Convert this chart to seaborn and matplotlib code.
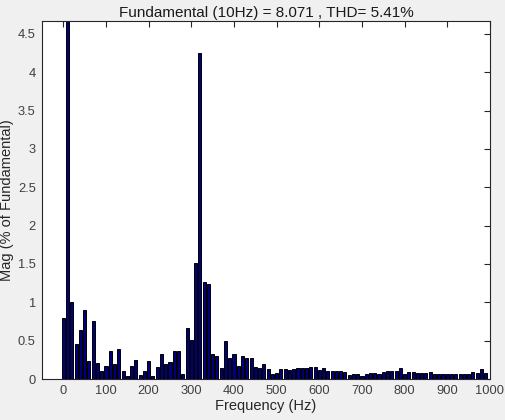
import numpy as np
import pandas as pd
import matplotlib
matplotlib.use("Agg")
import matplotlib.pyplot as plt
import seaborn as sns

# Harmonic frequencies (Hz) and magnitudes (% of fundamental)
freqs = list(range(0, 1000, 10))
mags = [
    0.79, 100.0, 1.01, 0.45, 0.64, 0.90, 0.24, 0.75, 0.21, 0.11,   # 0-90
    0.17, 0.37, 0.19, 0.39, 0.10, 0.04, 0.17, 0.25, 0.05, 0.11,    # 100-190
    0.24, 0.04, 0.16, 0.33, 0.20, 0.22, 0.36, 0.37, 0.06, 0.67,    # 200-290
    0.51, 1.51, 4.25, 1.26, 1.24, 0.32, 0.30, 0.15, 0.49, 0.28,    # 300-390
    0.32, 0.17, 0.30, 0.28, 0.27, 0.16, 0.14, 0.19, 0.13, 0.06,    # 400-490
    0.08, 0.13, 0.13, 0.12, 0.13, 0.15, 0.15, 0.15, 0.16, 0.16,    # 500-590
    0.12, 0.14, 0.11, 0.11, 0.11, 0.11, 0.09, 0.05, 0.07, 0.06,    # 600-690
    0.04, 0.07, 0.08, 0.08, 0.06, 0.09, 0.11, 0.10, 0.10, 0.15,    # 700-790
    0.07, 0.09, 0.09, 0.08, 0.08, 0.08, 0.09, 0.07, 0.06, 0.06,    # 800-890
    0.07, 0.06, 0.07, 0.06, 0.07, 0.07, 0.09, 0.08, 0.13, 0.08,    # 900-990
]
title_text = "Fundamental (10Hz) = 8.071 , THD= 5.41%"
x_label = "Frequency (Hz)"
y_label = "Mag (% of Fundamental)"
x_ticks = list(range(0, 1001, 100))
y_ticks = [0, 0.5, 1, 1.5, 2, 2.5, 3, 3.5, 4, 4.5]
y_ticklabels = ["0", "0.5", "1", "1.5", "2", "2.5", "3", "3.5", "4", "4.5"]

df = pd.DataFrame({"freq": freqs, "mag": mags})

sns.set_style("white")
plt.rcParams["font.family"] = ["Liberation Sans", "DejaVu Sans"]

fig = plt.figure(figsize=(5.05, 4.2), dpi=100, facecolor="#f0f0f0")
ax = fig.add_axes([0.0832, 0.0976, 0.8870, 0.8530])
ax.set_facecolor("white")

sns.barplot(data=df, x="freq", y="mag", native_scale=True, width=0.72,
            color="#00007a", saturation=1, edgecolor="black", linewidth=0.7,
            errorbar=None, ax=ax)

ax.set_xlim(-50, 1000)
ax.set_ylim(0, 4.67)
ax.set_xticks(x_ticks)
ax.set_xticklabels([str(t) for t in x_ticks])
ax.set_yticks(y_ticks)
ax.set_yticklabels(y_ticklabels)
ax.tick_params(direction="in", length=4, width=0.8, top=True, right=True,
               labelsize=9.3, colors="#262626", labelcolor="#404040", pad=4.5)
for s in ax.spines.values():
    s.set_color("#262626")
    s.set_linewidth(0.8)
    s.set_visible(True)

ax.set_xlabel(x_label, fontsize=10.5, color="#262626", labelpad=1.5)
ax.set_ylabel(y_label, fontsize=10.5, color="#262626", labelpad=3)
ax.set_title(title_text, fontsize=11, color="#1a1a1a", pad=3)

fig.savefig("out.png", dpi=100, facecolor=fig.get_facecolor())
